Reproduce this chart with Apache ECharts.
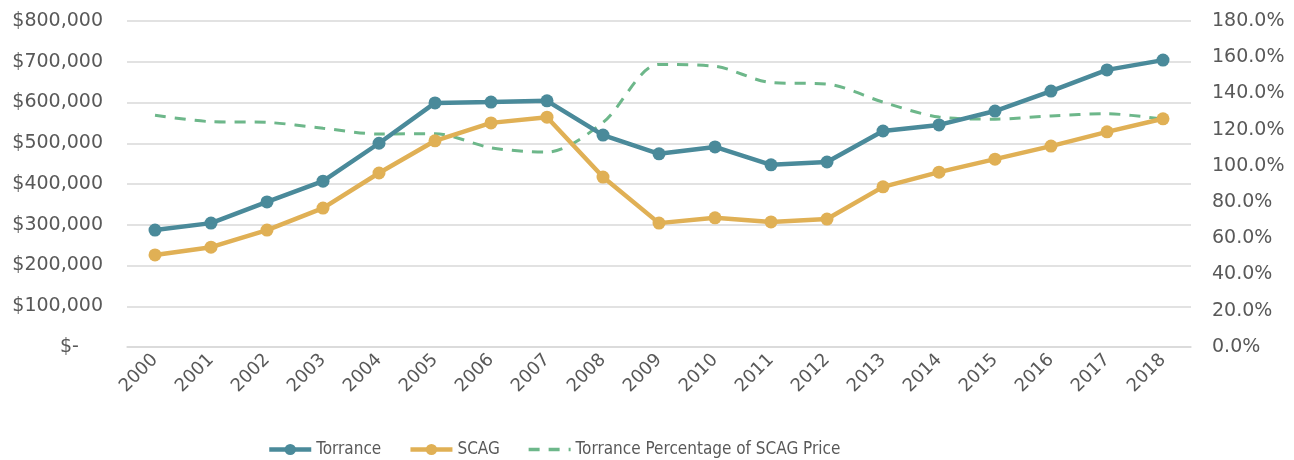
<!DOCTYPE html>
<html>
<head>
<meta charset="utf-8">
<script src="https://cdn.jsdelivr.net/npm/echarts@6/dist/echarts.min.js"></script>
<style>
  html, body { margin: 0; padding: 0; background: #fff; }
  #chart { width: 1294px; height: 460px; }
</style>
</head>
<body>
<div id="chart"></div>
<script>
const years = ['2000', '2001', '2002', '2003', '2004', '2005', '2006', '2007', '2008', '2009',
  '2010', '2011', '2012', '2013', '2014', '2015', '2016', '2017', '2018']
const torrance = [287000, 304000, 356000, 407000, 500000, 599000, 601000, 604000, 520000, 474000,
  491000, 447000, 454000, 530000, 545000, 579000, 628000, 680000, 704000]
const scag = [226000, 245000, 287000, 341000, 427000, 506000, 550000, 564000, 417000, 304000,
  317000, 307000, 314000, 393000, 429000, 461000, 493000, 528000, 560000]
const pctOfScag = [128.0, 124.4, 124.0, 120.8, 117.6, 117.8, 110.0, 107.6, 124.0, 156.0,
  155.0, 146.0, 145.2, 135.2, 127.0, 125.8, 127.6, 128.8, 125.8]

const textColor = '#595959'
const gridColor = '#d9d9d9'
const font = 'DejaVu Sans'

const chart = echarts.init(document.getElementById('chart'))

const money = v => {
  if (v === 0) return '$-    '
  return '$' + v.toLocaleString('en-US')
}

chart.setOption({
  animation: false,
  color: ['#4a8a9a', '#e0b055', '#6db78a'],
  textStyle: { fontFamily: font },
  grid: {
    left: 127,
    right: 103,
    top: 21,
    bottom: 113
  },
  legend: {
    top: 436,
    left: 262,
    itemWidth: 42,
    itemHeight: 14,
    itemGap: 27,
    textStyle: {
      fontFamily: 'DejaVu Sans Condensed',
      fontSize: 17,
      color: textColor
    },
    data: [
      { name: 'Torrance', lineStyle: { width: 4.5 } },
      { name: 'SCAG', lineStyle: { width: 4.5 } },
      {
        name: 'Torrance Percentage of SCAG Price',
        lineStyle: { width: 3.5 },
        itemStyle: { opacity: 0 }
      }
    ]
  },
  xAxis: {
    type: 'category',
    data: years,
    boundaryGap: true,
    axisLine: { lineStyle: { color: gridColor, width: 1.5 } },
    axisTick: { show: false },
    axisLabel: {
      rotate: 45,
      color: textColor,
      fontSize: 18,
      margin: 10
    }
  },
  yAxis: [
    {
      type: 'value',
      min: 0,
      max: 800000,
      interval: 100000,
      axisLine: { show: false },
      axisTick: { show: false },
      splitLine: { lineStyle: { color: gridColor, width: 1.5 } },
      axisLabel: {
        color: textColor,
        fontSize: 19,
        margin: 24,
        formatter: money
      }
    },
    {
      type: 'value',
      min: 0,
      max: 180,
      interval: 20,
      position: 'right',
      axisLine: { show: false },
      axisTick: { show: false },
      splitLine: { show: false },
      axisLabel: {
        color: textColor,
        fontSize: 19,
        margin: 21,
        formatter: v => v.toFixed(1) + '%'
      }
    }
  ],
  series: [
    {
      name: 'Torrance',
      type: 'line',
      data: torrance,
      symbol: 'circle',
      symbolSize: 13,
      lineStyle: { width: 4.5 },
      z: 3
    },
    {
      name: 'SCAG',
      type: 'line',
      data: scag,
      symbol: 'circle',
      symbolSize: 13,
      lineStyle: { width: 4.5 },
      z: 2
    },
    {
      name: 'Torrance Percentage of SCAG Price',
      type: 'line',
      yAxisIndex: 1,
      data: pctOfScag,
      smooth: 0.3,
      showSymbol: false,
      symbol: 'none',
      lineStyle: { width: 3, type: [11, 9] },
      z: 1
    }
  ]
})
</script>
</body>
</html>
